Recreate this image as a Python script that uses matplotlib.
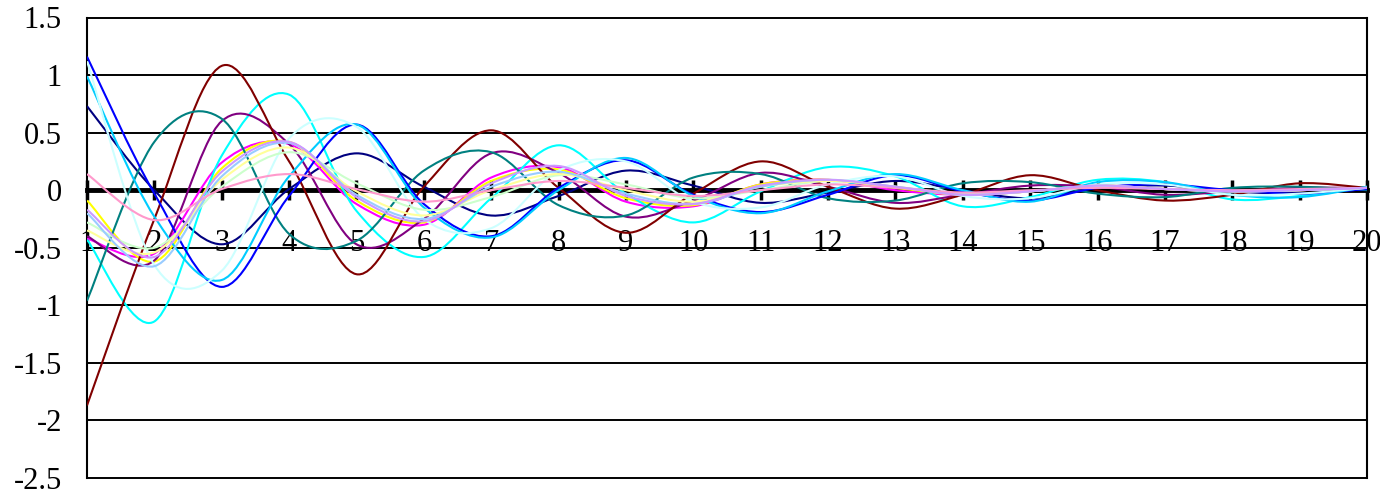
import numpy as np
import matplotlib
matplotlib.use("Agg")
import matplotlib.pyplot as plt
from matplotlib.path import Path
from matplotlib.patches import PathPatch

plt.rcParams['font.family'] = ['Liberation Serif', 'DejaVu Serif']

# Category positions
x_values = list(range(1, 21))
y_ticks = [-2.5, -2, -1.5, -1, -0.5, 0, 0.5, 1, 1.5]
y_labels = ['-2.5', '-2', '-1.5', '-1', '-0.5', '0', '0.5', '1', '1.5']

# Series values (one value per category)
navy = [0.73, 0.00, -0.47, 0.01, 0.32, 0.03, -0.22, -0.05, 0.17, 0.04,
        -0.11, -0.02, 0.08, 0.00, -0.07, 0.02, 0.04, -0.01, -0.03, 0.01]
magenta = [-0.42, -0.55, 0.24, 0.40, -0.12, -0.30, 0.11, 0.20, -0.10, -0.14,
           0.05, 0.09, 0.00, -0.04, -0.01, 0.04, 0.01, -0.01, 0.00, 0.02]
yellow = [-0.09, -0.62, 0.19, 0.42, -0.09, -0.28, 0.08, 0.18, -0.07, -0.13,
          0.05, 0.09, 0.02, -0.04, -0.01, 0.04, 0.01, -0.01, 0.00, 0.02]
cyan = [-0.43, -1.14, 0.30, 0.83, -0.18, -0.58, -0.07, 0.39, -0.03, -0.28,
        -0.01, 0.20, 0.12, -0.14, -0.06, 0.09, 0.07, -0.08, -0.05, 0.03]
purple = [-0.40, -0.61, 0.60, 0.40, -0.47, -0.25, 0.32, 0.15, -0.23, -0.09,
          0.15, 0.03, -0.11, -0.04, 0.04, 0.03, -0.04, -0.01, 0.02, 0.02]
dark_red = [-1.87, -0.25, 1.08, 0.25, -0.73, 0.03, 0.52, 0.02, -0.37, -0.03,
            0.25, 0.03, -0.16, -0.04, 0.13, 0.00, -0.09, -0.04, 0.06, 0.02]
teal = [-0.96, 0.42, 0.62, -0.38, -0.44, 0.17, 0.33, -0.13, -0.22, 0.11,
        0.14, -0.07, -0.09, 0.06, 0.07, -0.03, -0.06, 0.02, 0.03, 0.00]
blue = [1.16, -0.03, -0.84, -0.05, 0.57, -0.12, -0.40, 0.02, 0.26, -0.04,
        -0.19, -0.04, 0.13, -0.01, -0.09, 0.02, 0.05, 0.00, -0.03, 0.01]
sky_blue = [0.99, -0.23, -0.78, 0.12, 0.57, -0.15, -0.41, 0.00, 0.28, -0.05,
            -0.20, -0.01, 0.14, 0.00, -0.10, 0.07, 0.07, -0.04, -0.06, 0.03]
light_turquoise = [1.12, -0.65, -0.70, 0.45, 0.55, -0.25, -0.33, 0.17, 0.25, -0.10,
                   -0.15, 0.05, 0.12, -0.05, -0.07, 0.05, 0.05, -0.04, -0.03, 0.02]
light_green = [-0.28, -0.50, 0.03, 0.33, 0.06, -0.17, -0.06, 0.13, 0.05, -0.07,
               0.00, 0.08, 0.03, -0.03, -0.01, 0.03, 0.01, -0.01, 0.00, 0.02]
light_yellow = [-0.35, -0.54, 0.09, 0.37, -0.01, -0.22, 0.00, 0.14, 0.00, -0.10,
                0.03, 0.08, 0.03, -0.04, -0.01, 0.04, 0.01, -0.01, 0.00, 0.02]
pale_blue = [-0.20, -0.66, 0.12, 0.41, -0.04, -0.25, 0.03, 0.16, -0.03, -0.12,
             0.03, 0.09, 0.03, -0.04, -0.01, 0.04, 0.01, -0.01, 0.00, 0.02]
rose = [0.14, -0.26, 0.01, 0.14, 0.01, -0.10, 0.00, 0.08, 0.02, -0.05,
        0.00, 0.05, 0.02, -0.02, 0.00, 0.02, 0.01, 0.00, 0.01, 0.02]
lavender = [-0.17, -0.58, 0.16, 0.42, -0.06, -0.27, 0.06, 0.21, -0.05, -0.12,
            0.04, 0.09, 0.03, -0.04, -0.01, 0.04, 0.01, -0.01, 0.00, 0.02]

series = [
    (navy, '#000080'), (magenta, '#FF00FF'), (yellow, '#FFFF00'),
    (cyan, '#00FFFF'), (purple, '#800080'), (dark_red, '#800000'),
    (teal, '#008080'), (blue, '#0000FF'), (sky_blue, '#00CCFF'),
    (light_turquoise, '#CCFFFF'), (light_green, '#CCFFCC'),
    (light_yellow, '#FFFF99'), (pale_blue, '#99CCFF'), (rose, '#FF99CC'),
    (lavender, '#CC99FF'),
]


def smooth_path(xs, ys):
    """Cubic Bezier path through the points (Catmull-Rom style tangents)."""
    p = np.column_stack([xs, ys]).astype(float)
    n = len(p)
    verts = [p[0]]
    codes = [Path.MOVETO]
    for i in range(n - 1):
        p_prev = p[i - 1] if i > 0 else p[i]
        p_next2 = p[i + 2] if i + 2 < n else p[i + 1]
        c1 = p[i] + (p[i + 1] - p_prev) / 6.0
        c2 = p[i + 1] - (p_next2 - p[i]) / 6.0
        verts += [c1, c2, p[i + 1]]
        codes += [Path.CURVE4] * 3
    return Path(verts, codes)


fig = plt.figure(figsize=(13.8, 4.95), dpi=100)
ax = fig.add_axes([87 / 1380, 17 / 495, 1280 / 1380, 460.5 / 495])
ax.set_xlim(1, 20)
ax.set_ylim(-2.5, 1.5)

# horizontal gridlines, including the frame lines at top and bottom
for yv in y_ticks:
    if yv != 0:
        ax.axhline(yv, color='black', lw=1.4, zorder=1, clip_on=False)

for vals, col in series:
    ax.add_patch(PathPatch(smooth_path(x_values, vals), fill=False,
                           edgecolor=col, lw=1.5, zorder=3))

# category axis crossing at zero
ax.spines['bottom'].set_position(('data', 0))
ax.spines['bottom'].set_linewidth(3.5)
ax.spines['bottom'].set_zorder(2.5)
ax.spines['top'].set_visible(False)
for side in ('left', 'right'):
    ax.spines[side].set_linewidth(1.5)

ax.set_xticks(x_values)
ax.set_xticklabels([str(v) for v in x_values])
ax.tick_params(axis='x', direction='inout', length=14, width=2.5,
               pad=21, labelsize=22, colors='black')
ax.set_yticks(y_ticks)
ax.set_yticklabels(y_labels)
ax.tick_params(axis='y', length=0, pad=18, labelsize=22)

fig.savefig('out.png', dpi=100)
